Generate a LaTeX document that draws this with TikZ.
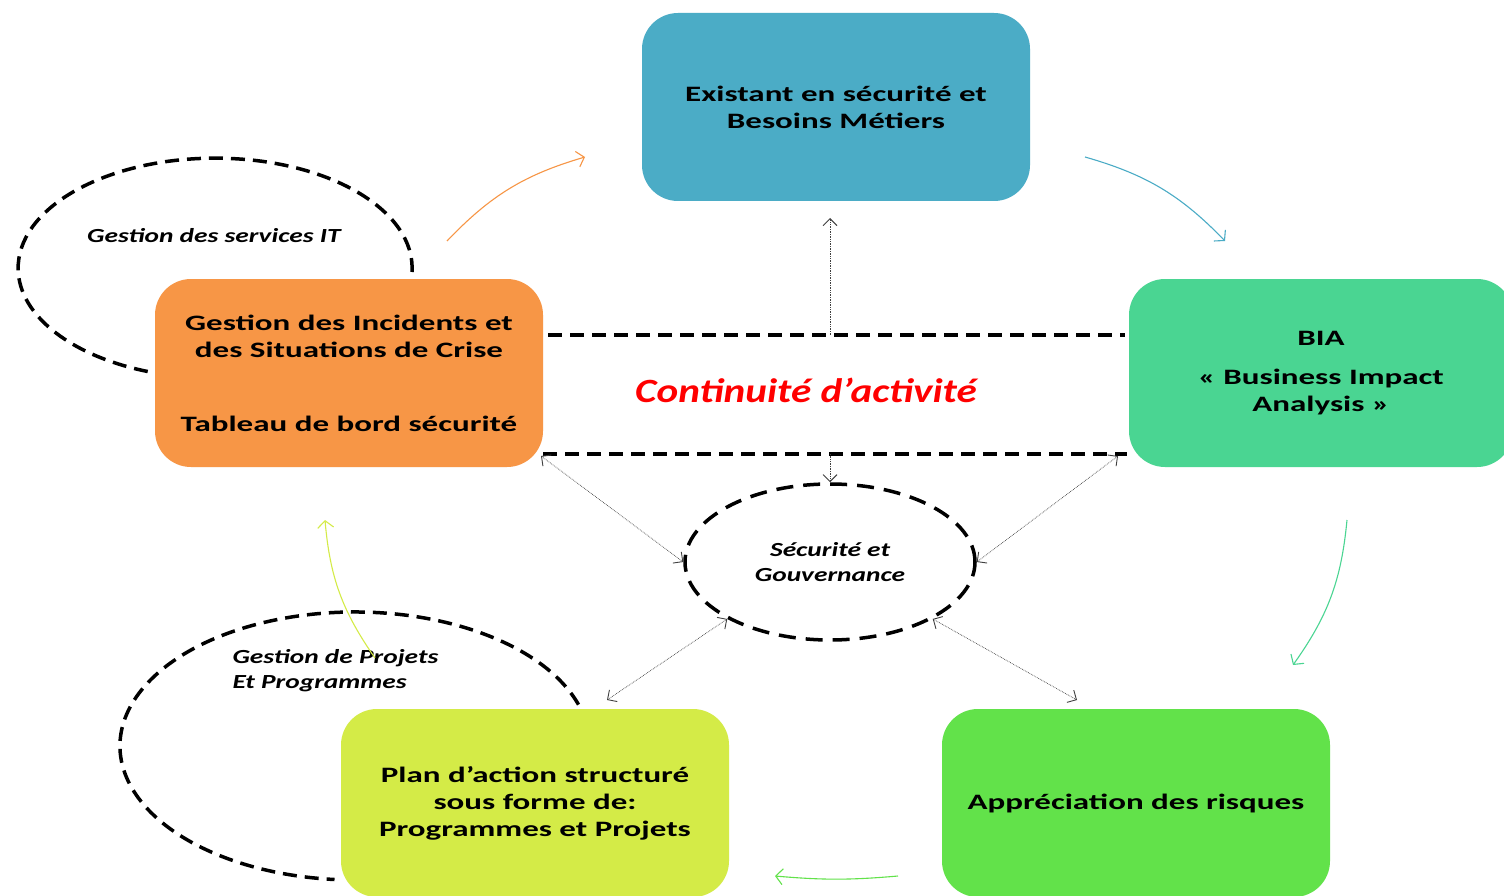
\documentclass[tikz,border=0pt]{standalone}
\usepackage{fontspec}
\setmainfont{Carlito}[FakeStretch=1.5]
\newfontfamily\labfont{Carlito}[FakeStretch=1.37]
\newfontfamily\bigfont{Carlito}[FakeStretch=1.21]
\usetikzlibrary{arrows.meta,shapes.geometric}
\definecolor{cblue}{RGB}{75,172,198}
\definecolor{corange}{RGB}{247,150,70}
\definecolor{cbia}{RGB}{74,213,146}
\definecolor{clime}{RGB}{212,235,71}
\definecolor{cgreen}{RGB}{98,226,74}
\definecolor{cred}{RGB}{255,0,0}
\begin{document}
\begin{tikzpicture}[x=1pt,y=-1pt,
  box/.style={rounded corners=36pt, minimum width=388pt, minimum height=188pt,
    align=center, inner sep=0pt, font=\bfseries\fontsize{22}{27}\selectfont},
  lab/.style={font=\labfont\bfseries\itshape\fontsize{20}{25}\selectfont},
  bigdash/.style={line width=3.5pt, dash pattern=on 14pt off 8pt},
  link/.style={black!75, line width=0.7pt, densely dotted,
    {Straight Barb[length=7pt,width=14pt,line width=0.9pt]}-{Straight Barb[length=7pt,width=14pt,line width=0.9pt]}},
  onelink/.style={black!75, line width=0.7pt, densely dotted,
    -{Straight Barb[length=7pt,width=14pt,line width=0.9pt]}},
  flow/.style={line width=1.1pt, -{Straight Barb[length=7pt,width=16pt,line width=1.1pt]}}]
\useasboundingbox (0,0) rectangle (1504,896);
\fill[white] (0,0) rectangle (1504,896);

% dashed arcs (ellipses)
\draw[bigdash] (412,272) arc[start angle=2, end angle=-250, x radius=197, y radius=110];
\draw[bigdash] (578.5,704.6) arc[start angle=-18, end angle=-265, x radius=235, y radius=134];

% boxes
\node[box, fill=cblue] (exist) at (836,107) {Existant en sécurité et\\Besoins Métiers};
\node[box, fill=corange] (incid) at (349,373) {Gestion des Incidents et\\des Situations de Crise\\[47pt]Tableau de bord sécurité};
\node[box, fill=cbia, minimum width=384pt] (bia) at (1321,373) {BIA\\[12pt]« Business Impact\\Analysis »};
\node[box, fill=clime] (plan) at (535,803) {Plan d’action structuré\\sous forme de:\\Programmes et Projets};
\node[box, fill=cgreen] (risk) at (1136,803) {Appréciation des risques};

% labels
\node[lab] (git) at (214,236) {Gestion des services IT};
\node[lab, anchor=west, align=left] (gpp) at (229,671) {Gestion de Projets\\Et Programmes};
\node[font=\bigfont\bfseries\itshape\fontsize{34}{36}\selectfont, text=cred] (ca) at (806,390) {Continuité d’activité};

% central ellipse
\node[ellipse, draw, line width=3.5pt, dash pattern=on 17pt off 10pt,
  minimum width=290pt, minimum height=156pt, inner sep=0pt, align=center,
  font=\labfont\bfseries\itshape\fontsize{20}{25}\selectfont] (sec) at (830,562) {Sécurité et\\Gouvernance};

% dashed band
\coordinate (t1) at (548,335); \coordinate (t2) at (1125,335);
\coordinate (b1) at (543,454); \coordinate (b2) at (1127,454);
\draw[bigdash] (t1) -- (t2);
\draw[bigdash] (b1) -- (b2);

% dotted arrows
\coordinate (up0) at (830,335); \coordinate (up1) at (830,218);
\coordinate (dn0) at (830,454);
\draw[onelink] (up0) -- (up1);
\draw[onelink] (dn0) -- (sec.north);
\coordinate (c1) at (541,456); \coordinate (c2) at (1118,456);
\coordinate (c3) at (607,700); \coordinate (c4) at (1077,700);
\draw[link] (c1) -- (sec.west);
\draw[link] (c2) -- (sec.east);
\draw[link] (c3) -- (sec.209);
\draw[link] (c4) -- (sec.331);

% colored flow arrows
\coordinate (o1) at (447,241); \coordinate (o2) at (585,157);
\coordinate (u1) at (1085,157); \coordinate (u2) at (1225,241);
\coordinate (g1) at (1347,520); \coordinate (g2) at (1293,665);
\coordinate (h1) at (898,876); \coordinate (h2) at (775,876);
\coordinate (l1) at (375,658); \coordinate (l2) at (325,520);
\draw[flow, corange] (o1) to[bend left=15] (o2);
\draw[flow, cblue] (u1) to[bend left=15] (u2);
\draw[flow, cbia] (g1) to[bend left=15] (g2);
\draw[flow, cgreen] (h1) to[bend left=5] (h2);
\draw[flow, clime] (l1) to[bend left=15] (l2);
\end{tikzpicture}
\end{document}
